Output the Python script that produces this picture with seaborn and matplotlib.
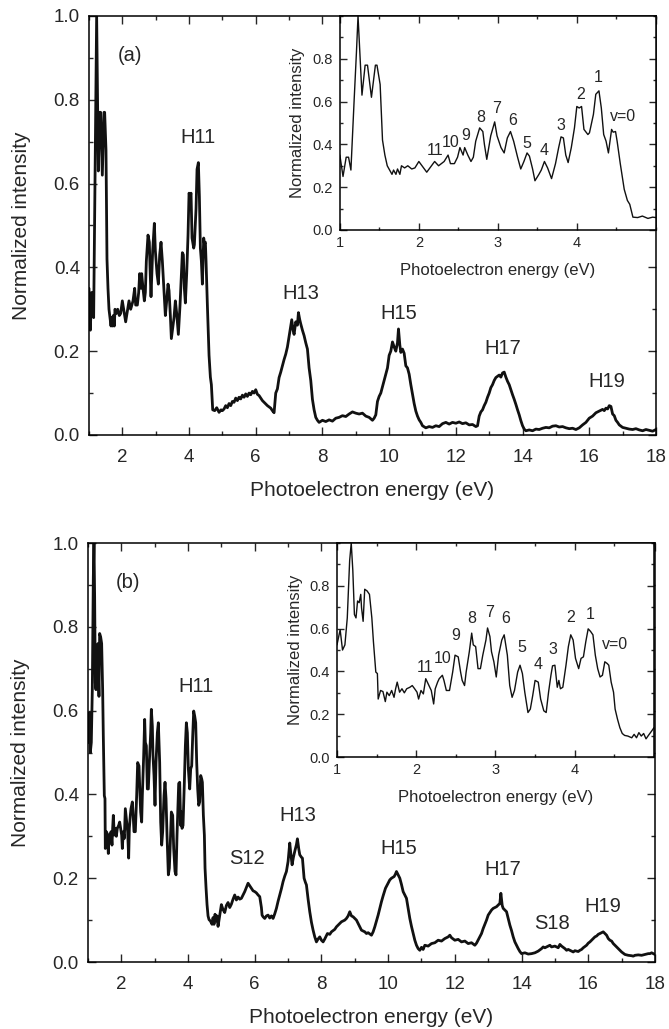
"""
Photoelectron spectra (a) and (b) with vibrational insets.
"""

import matplotlib

matplotlib.use("Agg")
import matplotlib.pyplot as plt
import numpy as np
import pandas as pd
import seaborn as sns
from matplotlib.ticker import MultipleLocator

# ---- panel (a) spectrum: low energy part ----
energy_a_low = [
    1.00, 1.04, 1.08, 1.11, 1.14, 1.18, 1.21, 1.23, 1.28, 1.32, 1.35, 1.40, 1.45,
    1.47, 1.51, 1.54, 1.57, 1.60, 1.63, 1.66, 1.68, 1.71, 1.73, 1.76, 1.78, 1.82,
    1.86, 1.91, 1.95, 2.00, 2.04, 2.10, 2.14, 2.20, 2.25, 2.32, 2.37, 2.40, 2.45,
    2.49, 2.52, 2.56, 2.58, 2.62, 2.66, 2.69, 2.72, 2.77, 2.81, 2.83, 2.86, 2.91,
    2.96, 2.99, 3.04, 3.08, 3.12, 3.16, 3.20, 3.25, 3.29, 3.33, 3.37, 3.40, 3.44,
    3.47, 3.52, 3.55, 3.59, 3.63, 3.68, 3.73, 3.77, 3.80, 3.83, 3.86, 3.89, 3.93,
    3.97, 4.00, 4.03, 4.06, 4.09, 4.14, 4.16, 4.21, 4.24, 4.28, 4.31, 4.34, 4.37,
    4.40, 4.44, 4.46, 4.49, 4.51, 4.55, 4.60, 4.64, 4.67, 4.71, 4.77, 4.83, 4.90,
    4.96, 5.00,
]
intensity_a_low = [
    0.35, 0.25, 0.34, 0.34, 0.28, 0.60, 0.83, 1.00, 0.63, 0.77, 0.77, 0.62, 0.77,
    0.77, 0.68, 0.42, 0.35, 0.30, 0.28, 0.26, 0.28, 0.26, 0.285, 0.26, 0.30, 0.29,
    0.30, 0.285, 0.29, 0.32, 0.30, 0.27, 0.29, 0.32, 0.30, 0.32, 0.35, 0.31, 0.31,
    0.34, 0.385, 0.35, 0.385, 0.35, 0.32, 0.34, 0.415, 0.477, 0.46, 0.40, 0.33, 0.44,
    0.505, 0.44, 0.385, 0.36, 0.43, 0.46, 0.415, 0.34, 0.285, 0.32, 0.36, 0.345, 0.285,
    0.23, 0.26, 0.28, 0.32, 0.29, 0.24, 0.31, 0.385, 0.435, 0.43, 0.35, 0.315, 0.385,
    0.477, 0.577, 0.57, 0.577, 0.47, 0.446, 0.454, 0.54, 0.634, 0.65, 0.57, 0.446, 0.415,
    0.36, 0.47, 0.457, 0.46, 0.415, 0.31, 0.19, 0.138, 0.12, 0.06, 0.058, 0.065, 0.054,
    0.06, 0.058,
]
# ---- panel (a) spectrum: harmonic part ----
energy_a_high = [
    5.05, 5.10, 5.15, 5.20, 5.25, 5.30, 5.35, 5.40, 5.45, 5.50, 5.55, 5.60, 5.65,
    5.70, 5.75, 5.80, 5.85, 5.90, 5.95, 6.00, 6.05, 6.10, 6.15, 6.20, 6.25, 6.30,
    6.35, 6.40, 6.45, 6.50, 6.55, 6.60, 6.65, 6.70, 6.75, 6.80, 6.85, 6.90, 6.95,
    7.00, 7.05, 7.08, 7.12, 7.15, 7.20, 7.25, 7.28, 7.32, 7.35, 7.40, 7.45, 7.50,
    7.55, 7.60, 7.65, 7.70, 7.75, 7.80, 7.85, 7.90, 8.00, 8.10, 8.20, 8.30, 8.40,
    8.50, 8.60, 8.70, 8.80, 8.90, 9.00, 9.10, 9.20, 9.30, 9.40, 9.50, 9.55, 9.60,
    9.65, 9.70, 9.75, 9.80, 9.85, 9.90, 9.95, 10.00, 10.05, 10.10, 10.15, 10.20,
    10.25, 10.28, 10.32, 10.35, 10.40, 10.45, 10.50, 10.55, 10.60, 10.65, 10.70,
    10.75, 10.80, 10.85, 10.90, 10.95, 11.00, 11.10, 11.20, 11.30, 11.40, 11.50,
    11.60, 11.70, 11.80, 11.90, 12.00, 12.10, 12.20, 12.30, 12.40, 12.50, 12.60,
    12.65, 12.70, 12.75, 12.80, 12.85, 12.90, 12.95, 13.00, 13.05, 13.10, 13.15,
    13.20, 13.25, 13.30, 13.35, 13.40, 13.45, 13.50, 13.55, 13.60, 13.65, 13.70,
    13.75, 13.80, 13.85, 13.90, 13.95, 14.00, 14.05, 14.10, 14.20, 14.30, 14.40,
    14.50, 14.60, 14.70, 14.80, 14.90, 15.00, 15.10, 15.20, 15.30, 15.40, 15.50,
    15.60, 15.70, 15.80, 15.90, 16.00, 16.10, 16.20, 16.30, 16.40, 16.45, 16.50,
    16.55, 16.60, 16.65, 16.70, 16.75, 16.80, 16.85, 16.90, 17.00, 17.10, 17.20,
    17.30, 17.40, 17.50, 17.60, 17.70, 17.80, 17.90, 18.00,
]
intensity_a_high = [
    0.062, 0.07, 0.065, 0.075, 0.07, 0.08, 0.078, 0.088, 0.082, 0.09, 0.086, 0.095, 0.09,
    0.098, 0.092, 0.10, 0.096, 0.104, 0.10, 0.108, 0.097, 0.094, 0.088, 0.082, 0.078, 0.074,
    0.07, 0.067, 0.064, 0.058, 0.053, 0.10, 0.11, 0.137, 0.15, 0.165, 0.18, 0.193, 0.21,
    0.235, 0.26, 0.275, 0.25, 0.24, 0.27, 0.262, 0.292, 0.275, 0.265, 0.25, 0.237, 0.22,
    0.205, 0.16, 0.13, 0.085, 0.06, 0.042, 0.035, 0.03, 0.035, 0.032, 0.036, 0.033, 0.04,
    0.042, 0.046, 0.044, 0.05, 0.055, 0.052, 0.05, 0.052, 0.045, 0.042, 0.035, 0.04, 0.048,
    0.08, 0.092, 0.10, 0.115, 0.13, 0.145, 0.16, 0.19, 0.20, 0.222, 0.21, 0.20,
    0.22, 0.253, 0.215, 0.197, 0.205, 0.195, 0.165, 0.16, 0.145, 0.12, 0.097,
    0.075, 0.057, 0.045, 0.036, 0.03, 0.022, 0.017, 0.02, 0.018, 0.022, 0.02,
    0.027, 0.03, 0.026, 0.03, 0.028, 0.031, 0.027, 0.029, 0.024, 0.025, 0.02,
    0.022, 0.045, 0.055, 0.06, 0.07, 0.078, 0.09, 0.10, 0.113, 0.12, 0.13,
    0.137, 0.14, 0.143, 0.138, 0.148, 0.15, 0.138, 0.128, 0.12, 0.108, 0.096,
    0.085, 0.073, 0.06, 0.048, 0.034, 0.022, 0.014, 0.01, 0.012, 0.01, 0.014,
    0.013, 0.016, 0.018, 0.017, 0.021, 0.022, 0.019, 0.02, 0.017, 0.015, 0.016,
    0.013, 0.017, 0.024, 0.03, 0.04, 0.045, 0.053, 0.057, 0.061, 0.058, 0.064,
    0.062, 0.07, 0.068, 0.05, 0.046, 0.035, 0.03, 0.024, 0.018, 0.016, 0.014,
    0.013, 0.015, 0.012, 0.01, 0.013, 0.011, 0.009, 0.013,
]

# ---- panel (b) spectrum: low energy part ----
energy_b_low = [
    1.00, 1.04, 1.07, 1.10, 1.13, 1.16, 1.18, 1.20, 1.22, 1.24, 1.26, 1.28, 1.30,
    1.31, 1.33, 1.35, 1.38, 1.41, 1.44, 1.46, 1.49, 1.51, 1.52, 1.55, 1.58, 1.61,
    1.63, 1.66, 1.69, 1.72, 1.74, 1.76, 1.79, 1.82, 1.85, 1.88, 1.92, 1.95, 1.98,
    2.01, 2.03, 2.06, 2.09, 2.12, 2.15, 2.19, 2.22, 2.24, 2.27, 2.29, 2.33, 2.35,
    2.38, 2.42, 2.46, 2.49, 2.53, 2.56, 2.58, 2.61, 2.63, 2.67, 2.70, 2.72, 2.75,
    2.78, 2.81, 2.84, 2.88, 2.90, 2.93, 2.95, 2.98, 3.01, 3.04, 3.08, 3.11, 3.15,
    3.18, 3.21, 3.24, 3.28, 3.31, 3.34, 3.37, 3.41, 3.44, 3.47, 3.50, 3.54, 3.57,
    3.61, 3.64, 3.67, 3.70, 3.72, 3.75, 3.78, 3.80, 3.82, 3.85, 3.89, 3.92, 3.95,
    3.98, 4.01, 4.05, 4.08, 4.11, 4.14, 4.17, 4.20, 4.23, 4.26, 4.29, 4.32, 4.35,
    4.38, 4.41, 4.43, 4.46, 4.49, 4.51, 4.54, 4.57, 4.60, 4.63, 4.67, 4.72, 4.75,
    4.78, 4.81, 4.84, 4.87, 4.90, 4.93, 4.97, 5.00,
]
intensity_b_low = [
    0.524, 0.595, 0.50, 0.524, 0.65, 0.918, 1.00, 0.871, 0.666, 0.65, 0.729, 0.721, 0.76,
    0.697, 0.634, 0.784, 0.776, 0.76, 0.65, 0.539, 0.397, 0.39, 0.271, 0.311, 0.306, 0.259,
    0.303, 0.287, 0.311, 0.279, 0.319, 0.35, 0.303, 0.319, 0.30, 0.319, 0.326, 0.334, 0.319,
    0.303, 0.271, 0.311, 0.295, 0.366, 0.342, 0.311, 0.248, 0.319, 0.35, 0.366, 0.382, 0.358,
    0.311, 0.311, 0.397, 0.476, 0.468, 0.397, 0.358, 0.334, 0.397, 0.492, 0.579, 0.524, 0.516,
    0.413, 0.413, 0.476, 0.547, 0.603, 0.563, 0.492, 0.445, 0.374, 0.476, 0.547, 0.571, 0.476,
    0.334, 0.279, 0.311, 0.397, 0.429, 0.39, 0.303, 0.208, 0.224, 0.287, 0.358, 0.35, 0.271,
    0.216, 0.208, 0.303, 0.382, 0.426, 0.429, 0.326, 0.358, 0.319, 0.326, 0.429, 0.516, 0.571,
    0.547, 0.461, 0.413, 0.461, 0.468, 0.539, 0.599, 0.587, 0.571, 0.476, 0.413, 0.374, 0.382,
    0.445, 0.437, 0.429, 0.35, 0.303, 0.224, 0.177, 0.137, 0.11, 0.101, 0.098, 0.09, 0.106,
    0.09, 0.114, 0.098, 0.11, 0.085, 0.101, 0.121, 0.137,
]
# ---- panel (b) spectrum: harmonic part ----
energy_b_high = [
    5.05, 5.10, 5.15, 5.20, 5.25, 5.30, 5.35, 5.40, 5.45, 5.50, 5.55, 5.60, 5.65,
    5.70, 5.75, 5.80, 5.85, 5.90, 5.95, 6.00, 6.05, 6.10, 6.15, 6.20, 6.22, 6.25,
    6.30, 6.35, 6.40, 6.45, 6.50, 6.55, 6.60, 6.65, 6.70, 6.75, 6.80, 6.85, 6.90,
    6.95, 7.00, 7.05, 7.08, 7.12, 7.16, 7.20, 7.25, 7.28, 7.32, 7.35, 7.40, 7.43,
    7.48, 7.52, 7.55, 7.60, 7.65, 7.70, 7.75, 7.80, 7.85, 7.90, 7.95, 8.00, 8.05,
    8.10, 8.18, 8.25, 8.30, 8.40, 8.45, 8.50, 8.60, 8.70, 8.75, 8.80, 8.85, 8.90,
    8.95, 9.00, 9.05, 9.10, 9.20, 9.30, 9.35, 9.40, 9.50, 9.55, 9.60, 9.65, 9.70,
    9.75, 9.80, 9.85, 9.92, 10.00, 10.05, 10.10, 10.18, 10.22, 10.25, 10.30, 10.35,
    10.40, 10.45, 10.50, 10.55, 10.60, 10.65, 10.70, 10.75, 10.80, 10.85, 10.90,
    10.95, 11.00, 11.05, 11.10, 11.20, 11.30, 11.40, 11.50, 11.60, 11.70, 11.80,
    11.85, 11.90, 12.00, 12.10, 12.20, 12.30, 12.40, 12.50, 12.60, 12.65, 12.72,
    12.80, 12.85, 12.90, 12.95, 13.00, 13.05, 13.10, 13.15, 13.20, 13.25, 13.30,
    13.35, 13.38, 13.42, 13.45, 13.50, 13.55, 13.60, 13.65, 13.70, 13.75, 13.80,
    13.85, 13.90, 13.95, 14.00, 14.10, 14.20, 14.30, 14.40, 14.50, 14.60, 14.65,
    14.70, 14.80, 14.85, 14.90, 15.00, 15.05, 15.10, 15.15, 15.20, 15.30, 15.35,
    15.40, 15.50, 15.55, 15.60, 15.70, 15.75, 15.80, 15.85, 15.90, 15.95, 16.00,
    16.05, 16.10, 16.15, 16.20, 16.25, 16.30, 16.35, 16.40, 16.45, 16.50, 16.55,
    16.60, 16.65, 16.70, 16.75, 16.80, 16.85, 16.90, 17.00, 17.10, 17.20, 17.30,
    17.35, 17.40, 17.50, 17.60, 17.70, 17.80, 17.85, 17.90, 18.00,
]
intensity_b_high = [
    0.125, 0.118, 0.135, 0.142, 0.13, 0.138, 0.15, 0.16, 0.148, 0.155, 0.15, 0.152, 0.16,
    0.168, 0.178, 0.188, 0.182, 0.176, 0.17, 0.168, 0.165, 0.16, 0.156, 0.13, 0.112, 0.108,
    0.104, 0.11, 0.112, 0.105, 0.11, 0.104, 0.115, 0.128, 0.145, 0.16, 0.175, 0.192, 0.205,
    0.216, 0.24, 0.284, 0.26, 0.232, 0.25, 0.264, 0.28, 0.294, 0.27, 0.256, 0.25, 0.248,
    0.20, 0.19, 0.184, 0.15, 0.12, 0.095, 0.076, 0.06, 0.048, 0.055, 0.06, 0.052, 0.048,
    0.055, 0.068, 0.066, 0.072, 0.078, 0.084, 0.088, 0.096, 0.10, 0.104, 0.11, 0.12, 0.11,
    0.108, 0.104, 0.10, 0.092, 0.076, 0.072, 0.068, 0.07, 0.064, 0.072, 0.084, 0.098, 0.112,
    0.128, 0.144, 0.158, 0.176, 0.188, 0.196, 0.20, 0.204, 0.21, 0.216, 0.208, 0.20,
    0.185, 0.168, 0.16, 0.152, 0.128, 0.104, 0.085, 0.068, 0.052, 0.04, 0.032,
    0.028, 0.035, 0.03, 0.04, 0.038, 0.044, 0.046, 0.052, 0.05, 0.056, 0.06,
    0.064, 0.058, 0.052, 0.054, 0.048, 0.05, 0.044, 0.046, 0.04, 0.045, 0.056,
    0.068, 0.08, 0.09, 0.10, 0.112, 0.118, 0.124, 0.128, 0.13, 0.132, 0.136,
    0.14, 0.164, 0.135, 0.128, 0.124, 0.12, 0.104, 0.088, 0.075, 0.06, 0.048,
    0.04, 0.032, 0.025, 0.02, 0.022, 0.019, 0.02, 0.022, 0.026, 0.032, 0.036,
    0.034, 0.038, 0.04, 0.036, 0.038, 0.036, 0.034, 0.042, 0.038, 0.032, 0.028,
    0.03, 0.026, 0.024, 0.027, 0.025, 0.028, 0.03, 0.034, 0.037, 0.04, 0.045,
    0.048, 0.052, 0.056, 0.06, 0.062, 0.066, 0.068, 0.07, 0.072, 0.068, 0.064,
    0.056, 0.052, 0.05, 0.044, 0.04, 0.036, 0.032, 0.024, 0.018, 0.016, 0.015,
    0.014, 0.016, 0.017, 0.016, 0.018, 0.02, 0.02, 0.022, 0.018,
]

# ---- peak labels ----
main_labels_a = ["(a)", "H11", "H13", "H15", "H17", "H19"]
main_label_x_a = [2.22, 4.27, 7.34, 10.28, 13.42, 16.52]
main_label_y_a = [0.905, 0.71, 0.338, 0.29, 0.207, 0.127]

main_labels_b = ["(b)", "H11", "S12", "H13", "H15", "H17", "S18", "H19"]
main_label_x_b = [2.21, 4.24, 5.77, 7.30, 10.31, 13.44, 14.90, 16.45]
main_label_y_b = [0.905, 0.658, 0.247, 0.35, 0.27, 0.22, 0.093, 0.133]

vib_labels = ["11", "10", "9", "8", "7", "6", "5", "4", "3", "2", "1", "v=0"]
vib_x_a = [2.20, 2.40, 2.59, 2.78, 2.99, 3.19, 3.37, 3.58, 3.80, 4.05, 4.27, 4.58]
vib_y_a = [0.371, 0.41, 0.44, 0.525, 0.568, 0.51, 0.405, 0.371, 0.487, 0.633, 0.714, 0.53]
vib_x_b = [2.11, 2.33, 2.50, 2.70, 2.92, 3.13, 3.33, 3.54, 3.73, 3.95, 4.19, 4.51]
vib_y_b = [0.42, 0.46, 0.57, 0.646, 0.677, 0.646, 0.51, 0.434, 0.503, 0.65, 0.668, 0.526]

XLABEL = "Photoelectron energy (eV)"
YLABEL = "Normalized intensity"


def style_axis(ax, x_major, x_minor, fontsize, tick_len, xpad, ypad):
    ax.xaxis.set_major_locator(MultipleLocator(x_major))
    ax.xaxis.set_minor_locator(MultipleLocator(x_minor))
    ax.yaxis.set_major_locator(MultipleLocator(0.2))
    ax.yaxis.set_minor_locator(MultipleLocator(0.1))
    ax.tick_params(which="both", direction="in", top=True, right=True,
                   labelsize=fontsize, width=1.0)
    ax.tick_params(axis="x", which="both", pad=xpad)
    ax.tick_params(axis="y", which="both", pad=ypad)
    ax.tick_params(which="major", length=tick_len)
    ax.tick_params(which="minor", length=tick_len * 0.5)
    for spine in ax.spines.values():
        spine.set_linewidth(1.1)
        spine.set_color("black")


def draw_panel(fig, main_rect, inset_rect, energy, intensity,
               labels, label_x, label_y, vib_x, vib_y):
    df = pd.DataFrame({"energy": energy, "intensity": intensity})

    ax = fig.add_axes(main_rect)
    sns.lineplot(data=df, x="energy", y="intensity", ax=ax, color="#111111",
                 linewidth=2.0, estimator=None, sort=False)
    ax.set_xlim(1, 18)
    ax.set_ylim(0, 1.0)
    style_axis(ax, 2, 1, 13.5, 6, xpad=10, ypad=6.5)
    ax.set_xticks([2, 4, 6, 8, 10, 12, 14, 16, 18])
    ax.set_xlabel(XLABEL, fontsize=15, labelpad=11)
    ax.set_ylabel(YLABEL, fontsize=15, labelpad=16)
    for text, tx, ty in zip(labels, label_x, label_y):
        ax.text(tx, ty, text, fontsize=14.5, ha="center", va="center")

    ins = fig.add_axes(inset_rect)
    sns.lineplot(data=df[df["energy"] <= 5.0], x="energy", y="intensity", ax=ins,
                 color="#111111", linewidth=1.0, estimator=None, sort=False)
    ins.set_xlim(1, 5)
    ins.set_ylim(0, 1.0)
    style_axis(ins, 1, 0.5, 10.5, 5, xpad=4, ypad=5)
    ins.set_xticks([1, 2, 3, 4])
    ins.set_yticks([0.0, 0.2, 0.4, 0.6, 0.8])
    ins.set_xlabel(XLABEL, fontsize=12, labelpad=10)
    ins.set_ylabel(YLABEL, fontsize=12, labelpad=5)
    for text, tx, ty in zip(vib_labels, vib_x, vib_y):
        ins.text(tx, ty, text, fontsize=11.5, ha="center", va="center")


sns.set_style("ticks")
plt.rcParams["font.family"] = ["Liberation Sans", "DejaVu Sans"]

fig = plt.figure(figsize=(6.69, 10.29), dpi=100)

energy_a = np.array(energy_a_low + energy_a_high)
intensity_a = np.array(intensity_a_low + intensity_a_high)
energy_b = np.array(energy_b_low + energy_b_high)
intensity_b = np.array(intensity_b_low + intensity_b_high)

draw_panel(fig, [0.133, 0.5773, 0.8475, 0.4072], [0.508, 0.7765, 0.4723, 0.208],
           energy_a, intensity_a, main_labels_a, main_label_x_a, main_label_y_a,
           vib_x_a, vib_y_a)
draw_panel(fig, [0.1315, 0.0651, 0.8475, 0.4072], [0.5037, 0.2643, 0.4738, 0.208],
           energy_b, intensity_b, main_labels_b, main_label_x_b, main_label_y_b,
           vib_x_b, vib_y_b)

fig.savefig("out.png", dpi=100)
plt.close(fig)
